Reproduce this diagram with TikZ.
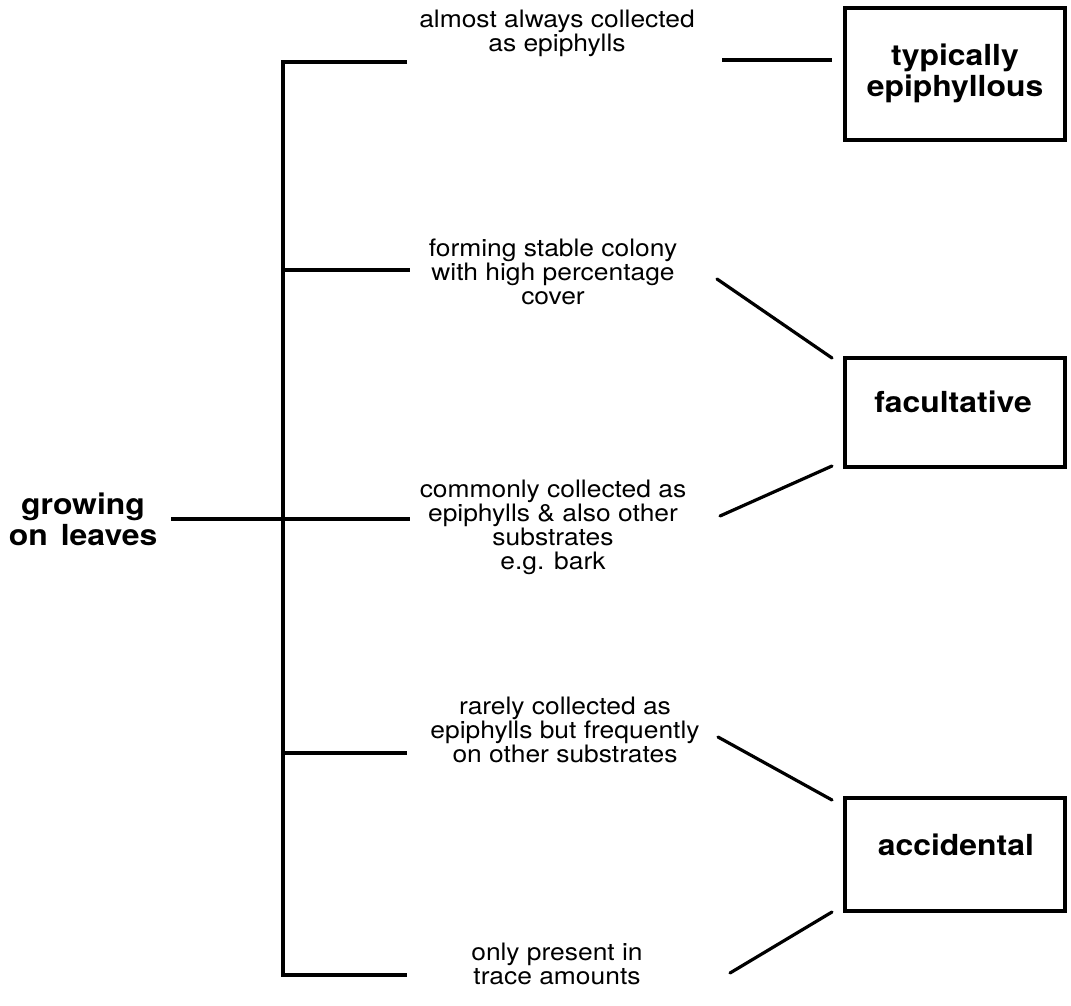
\documentclass[tikz,border=0pt]{standalone}
\usepackage{fontspec}
\setmainfont[FakeStretch=1.1]{TeX Gyre Heros}
\begin{document}
\begin{tikzpicture}[x=1pt,y=-1pt,
  lbl/.style={align=center, font=\fontsize{24}{24}\selectfont, inner sep=0pt},
  boxtxt/.style={align=center, font=\bfseries\fontsize{29}{31}\selectfont, inner sep=0pt},
  catbox/.style={draw, line width=3.2pt, minimum width=220pt, inner sep=0pt},
  ln/.style={line width=3.2pt}]
\useasboundingbox (0,0) rectangle (1071,1005);
% root
\node[boxtxt] (grow) at (83,519) {growing\\on\hspace{0.45em}leaves};
% boxes
\node[catbox, minimum height=132pt] (typ) at (955,74) {};
\node[boxtxt] (typt) at (955,73) {typically\\epiphyllous};
\node[catbox, minimum height=109pt] (fac) at (955,412.5) {};
\node[boxtxt] (fact) at (953,402) {facultative};
\node[catbox, minimum height=113pt] (acc) at (955,854.5) {};
\node[boxtxt] (acct) at (956,845) {accidental};
% criteria
\node[lbl] (c1) at (557,33) {almost always collected\\as epiphylls};
\node[lbl] (c2) at (553,272) {forming stable colony\\with high percentage\\cover};
\node[lbl] (c3) at (553,527) {commonly collected as\\epiphylls \& also other\\substrates\\e.g. bark};
\node[lbl] (c4) at (565,730) {rarely collected as\\epiphylls but frequently\\on other substrates};
\node[lbl] (c5) at (557,964) {only present in\\trace amounts};
% bracket coordinates
\coordinate (r0) at (171,519);
\coordinate (r1) at (410,519);
\coordinate (v1) at (283,62);
\coordinate (v2) at (283,270);
\coordinate (v4) at (283,753);
\coordinate (v5) at (283,975);
\coordinate (h1) at (407,62);
\coordinate (h2) at (410,270);
\coordinate (h4) at (407,753);
\coordinate (h5) at (407,975);
\draw[ln] (r0) -- (r1);
\draw[ln] (h1) -- (v1) -- (v5) -- (h5);
\draw[ln] (v2) -- (h2);
\draw[ln] (v4) -- (h4);
% connectors to categories
\coordinate (t1) at (722,60);
\coordinate (t2) at (832,60);
\draw[ln] (t1) -- (t2);
\coordinate (f1) at (717,279);
\coordinate (f2) at (832,358);
\coordinate (f3) at (720,516);
\coordinate (f4) at (832,466);
\draw[ln, line cap=round] (f1) -- (f2);
\draw[ln, line cap=round] (f3) -- (f4);
\coordinate (a1) at (718,737);
\coordinate (a2) at (832,800);
\coordinate (a3) at (730,973);
\coordinate (a4) at (832,912);
\draw[ln, line cap=round] (a1) -- (a2);
\draw[ln, line cap=round] (a3) -- (a4);
\end{tikzpicture}
\end{document}
